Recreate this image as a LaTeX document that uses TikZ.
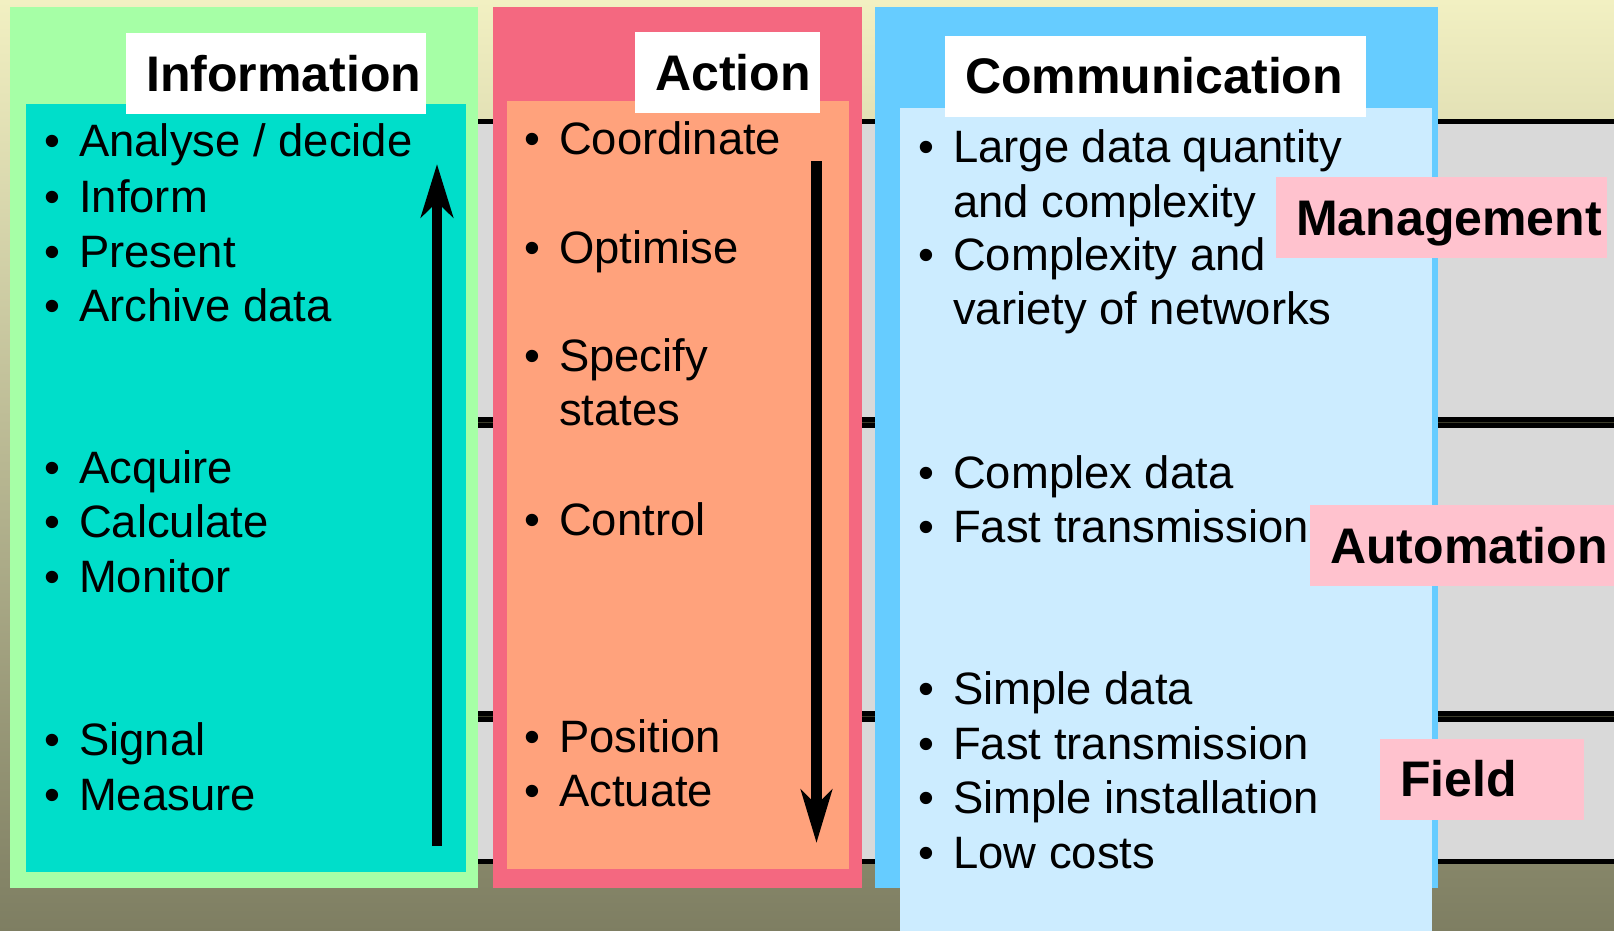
\documentclass[tikz,border=0pt]{standalone}
\usepackage{fontspec}
\setmainfont{Liberation Sans}
\usetikzlibrary{arrows.meta}

\definecolor{bgtop}{HTML}{F2F0C2}
\definecolor{bgbottom}{HTML}{7E7E62}
\definecolor{bandgrey}{HTML}{D9D9D9}
\definecolor{stripe}{HTML}{3C3C2A}
\definecolor{infoouter}{HTML}{A6FFA6}
\definecolor{infoinner}{HTML}{00DECA}
\definecolor{actouter}{HTML}{F46880}
\definecolor{actinner}{HTML}{FFA27C}
\definecolor{commouter}{HTML}{66CCFF}
\definecolor{comminner}{HTML}{CCECFF}
\definecolor{levelpink}{HTML}{FFC2CE}

\newcommand\itemfont{\fontsize{45.4}{54}\selectfont}
\newcommand\headfont{\fontsize{50}{60}\selectfont\bfseries}
\newcommand\bul{\llap{\textbullet\hspace{19pt}}}

\tikzset{
  entry/.style={anchor=base west, inner sep=0pt, font=\itemfont},
  headbox/.style={anchor=base west, fill=white, inner xsep=0pt, inner ysep=0pt,
    text height=58pt, text depth=23pt, align=left, font=\headfont,
    execute at begin node=\hspace*{20pt}},
  levelbox/.style={headbox, fill=levelpink},
}

\begin{document}
\begin{tikzpicture}[x=1pt,y=-1pt]
\useasboundingbox (0,0) rectangle (1614,931);

%Background
\shade[top color=bgtop, bottom color=bgbottom] (0,0) rectangle (1614,931);
\fill[bandgrey] (470,122) rectangle (1614,861);

%Level lines
\draw[line width=5pt] (470,121.5) -- (1614,121.5);
\draw[line width=5pt, double=stripe, double distance=1pt] (470,422.5) -- (1614,422.5);
\draw[line width=5pt, double=stripe, double distance=1pt] (470,716.5) -- (1614,716.5);
\draw[line width=5pt] (470,861.5) -- (1614,861.5);

%Columns
\fill[infoouter] (10,7) rectangle (478,888);
\fill[infoinner] (26,104) rectangle (466,872);
\fill[actouter] (493,7) rectangle (862,888);
\fill[actinner] (507,101) rectangle (849,869);
\fill[commouter] (875,7) rectangle (1438,888);
\fill[comminner] (900,108) rectangle (1432,931);

%Headings
\node[headbox, text width=300pt] (infohead) at (126,91.5) {Information};
\node[headbox, text width=185pt] (acthead) at (635,90.5) {Action};
\node[headbox, text width=421pt] (commhead) at (945,94) {Communication};

%Information
\node[entry] (analyse) at (79,157) {\bul Analyse / decide};
\node[entry] (inform) at (79,212.5) {\bul Inform};
\node[entry] (present) at (79,267.5) {\bul Present};
\node[entry] (archive) at (79,321.5) {\bul Archive data};
\node[entry] (acquire) at (79,483) {\bul Acquire};
\node[entry] (calculate) at (79,537.5) {\bul Calculate};
\node[entry] (monitor) at (79,592) {\bul Monitor};
\node[entry] (signal) at (79,755.5) {\bul Signal};
\node[entry] (measure) at (79,810) {\bul Measure};

%Action
\node[entry] (coordinate) at (559,154) {\bul Coordinate};
\node[entry] (optimise) at (559,263) {\bul Optimise};
\node[entry] (specify) at (559,371) {\bul Specify};
\node[entry] (states) at (559,425.5) {states};
\node[entry] (control) at (559,535) {\bul Control};
\node[entry] (position) at (559,752.5) {\bul Position};
\node[entry] (actuate) at (559,806.5) {\bul Actuate};

%Communication
\node[entry] (quantity) at (953,163) {\bul Large data quantity};
\node[entry] (quantity2) at (953,217) {and complexity};
\node[entry] (variety) at (953,270.5) {\bul Complexity and};
\node[entry] (variety2) at (953,324.5) {variety of networks};
\node[entry] (complexdata) at (953,488.5) {\bul Complex data};
\node[entry] (fastauto) at (953,542) {\bul Fast transmission};
\node[entry] (simpledata) at (953,704.5) {\bul Simple data};
\node[entry] (fastfield) at (953,759.5) {\bul Fast transmission};
\node[entry] (install) at (953,813.5) {\bul Simple installation};
\node[entry] (costs) at (953,868.5) {\bul Low costs};

%Arrows
\coordinate (upfoot) at (437,846);
\coordinate (uptip) at (437,164);
\draw[line width=10pt, -{Stealth[length=53pt, width=32pt, inset=15pt]}] (upfoot) -- (uptip);
\coordinate (downtop) at (816.5,161);
\coordinate (downtip) at (816.5,843);
\draw[line width=11pt, -{Stealth[length=53pt, width=31pt, inset=15pt]}] (downtop) -- (downtip);

%Levels
\node[levelbox, text width=331pt] (management) at (1276,235) {Management};
\node[levelbox, text width=304pt] (automation) at (1310,563) {Automation};
\node[levelbox, text width=204pt] (field) at (1380,796.5) {Field};

\end{tikzpicture}
\end{document}
